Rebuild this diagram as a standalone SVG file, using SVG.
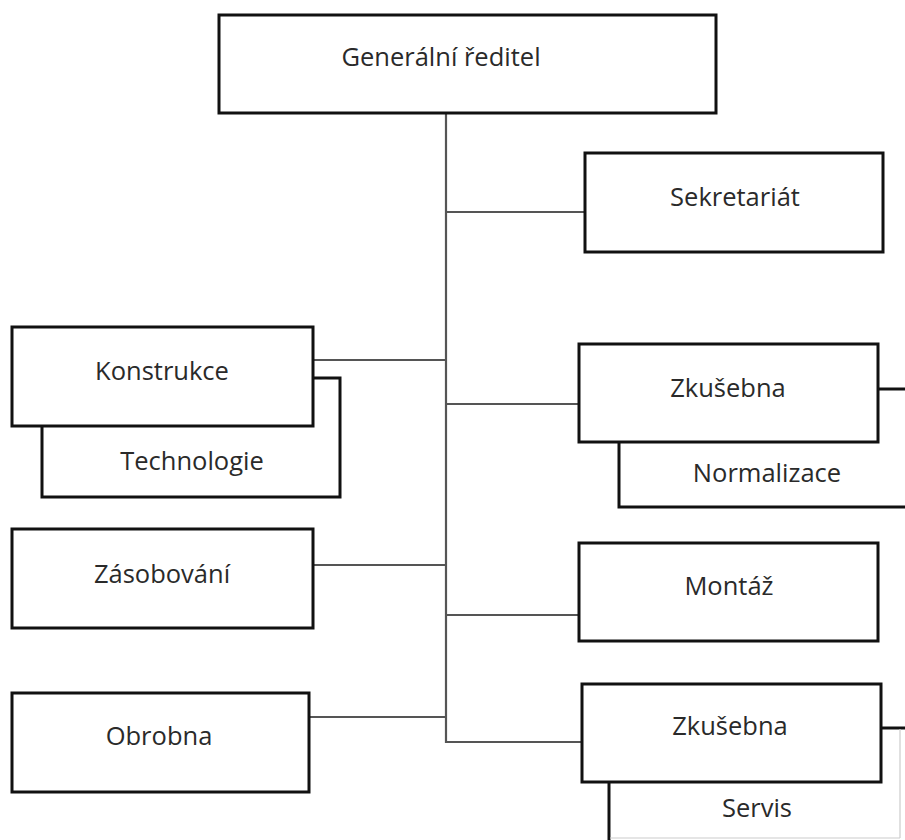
<svg xmlns="http://www.w3.org/2000/svg" width="905" height="840" viewBox="0 0 905 840">
<style>
.box{fill:#fff;stroke:#111;stroke-width:3}
.edge{fill:none;stroke:#111;stroke-width:3}
.lbl{font-family:"Open Sans","Noto Sans",sans-serif;font-size:25.5px;fill:#2a2a2a;text-anchor:middle}
.con{stroke:#555;stroke-width:2.2;fill:none}
.conb{stroke:#111;stroke-width:3;fill:none}
.ghost{stroke:#ccc;stroke-width:1.2;fill:none}
</style>
<rect width="905" height="840" fill="#fff"/>
<g id="connectors">
<polyline class="con" points="446,113 446,742 582,742"/>
<line class="con" x1="446" y1="212" x2="585" y2="212"/>
<line class="con" x1="313" y1="360" x2="446" y2="360"/>
<line class="con" x1="446" y1="404" x2="579" y2="404"/>
<line class="con" x1="313" y1="565" x2="446" y2="565"/>
<line class="con" x1="446" y1="615" x2="579" y2="615"/>
<line class="con" x1="309" y1="717" x2="446" y2="717"/>
<line class="conb" x1="878" y1="389" x2="905" y2="389"/>
<line class="conb" x1="881" y1="728" x2="905" y2="728"/>
</g>
<g id="n-generalni">
<rect class="box" x="219" y="15" width="497" height="98"/>
<text class="lbl" x="441" y="66">Generální ředitel</text>
</g>
<g id="n-sekretariat">
<rect class="box" x="585" y="153" width="298" height="99"/>
<text class="lbl" x="735" y="206">Sekretariát</text>
</g>
<g id="n-technologie">
<rect class="box" x="42" y="378" width="298" height="119"/>
<text class="lbl" x="192" y="470">Technologie</text>
</g>
<g id="n-konstrukce">
<rect class="box" x="12" y="327" width="301" height="99"/>
<text class="lbl" x="162" y="380">Konstrukce</text>
</g>
<g id="n-normalizace">
<path class="edge" d="M619,440 V507 H905"/>
<text class="lbl" x="767" y="482">Normalizace</text>
</g>
<g id="n-zkusebna1">
<rect class="box" x="579" y="344" width="299" height="98"/>
<text class="lbl" x="728" y="397">Zkušebna</text>
</g>
<g id="n-zasobovani">
<rect class="box" x="12" y="529" width="301" height="99"/>
<text class="lbl" x="162" y="583">Zásobování</text>
</g>
<g id="n-montaz">
<rect class="box" x="579" y="543" width="299" height="98"/>
<text class="lbl" x="729" y="595">Montáž</text>
</g>
<g id="n-obrobna">
<rect class="box" x="12" y="693" width="297" height="99"/>
<text class="lbl" x="159" y="745">Obrobna</text>
</g>
<g id="n-servis">
<line class="edge" x1="609" y1="770" x2="609" y2="840"/>
<line class="ghost" x1="900" y1="729" x2="900" y2="838"/>
<line class="ghost" x1="610" y1="838" x2="900" y2="838"/>
<text class="lbl" x="757" y="817">Servis</text>
</g>
<g id="n-zkusebna2">
<rect class="box" x="582" y="684" width="299" height="98"/>
<text class="lbl" x="730" y="735">Zkušebna</text>
</g>
</svg>
